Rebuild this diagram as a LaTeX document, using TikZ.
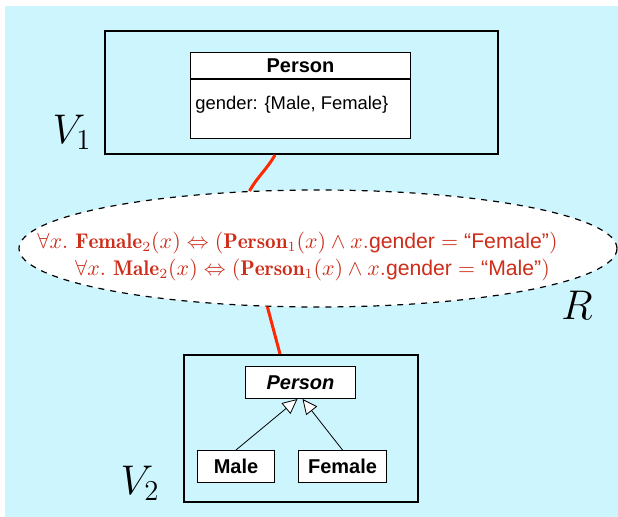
\documentclass[tikz,border=0pt]{standalone}
\usepackage{fontspec}
\setsansfont{Liberation Sans}
\usetikzlibrary{positioning,arrows.meta,shapes.geometric}
\definecolor{skyback}{RGB}{205,245,254}
\definecolor{mapline}{RGB}{255,40,0}
\definecolor{maptext}{RGB}{205,45,25}
\begin{document}
\begin{tikzpicture}[x=0.5pt,y=-0.5pt,
		viewbox/.style={draw,line width=1pt,anchor=north west,inner sep=0pt},
		classbox/.style={draw,fill=white,line width=0.5pt,anchor=north west,inner sep=0pt,font=\sffamily\bfseries\fontsize{10}{12}\selectfont},
		maplink/.style={draw=mapline,line width=1.5pt},
		viewlabel/.style={font=\fontsize{20}{24}\selectfont},
		maprule/.style={text=maptext,font=\fontsize{10.6}{12}\selectfont},
		isa/.style={-{Triangle[open,fill=white,length=7.5pt,width=7pt]},line width=0.4pt}]
		\fill[skyback] (5,6) rectangle (618,517);
		\useasboundingbox (0,0) rectangle (618,517);
		% view V1
		\node[viewbox,minimum width=196.5pt,minimum height=61.5pt] (vone) at (104,30) {};
		\node[classbox,minimum width=110pt,minimum height=13pt] (pone) at (190,52) {Person};
		\node[classbox,minimum width=110pt,minimum height=29.5pt,anchor=north] (ponebody) at (pone.south) {};
		\node[anchor=west,inner sep=0pt,font=\sffamily\fontsize{9.2}{11}\selectfont] (gender) at (195,105) {gender: \{Male, Female\}};
		\node[viewlabel] (vonelabel) at (72,132) {$V_1$};
		% mapping R
		\node[ellipse,draw,dashed,fill=white,line width=0.6pt,inner sep=0pt,minimum width=299pt,minimum height=58.5pt] (rel) at (318,248.5) {};
		\node[maprule] (fem) at (297.5,243) {$\forall x.\ \mathbf{Female}_2(x) \Leftrightarrow (\mathbf{Person}_1(x) \wedge x.\textsf{gender} = \textsf{``Female''})$};
		\node[maprule] (mal) at (312.5,270) {$\forall x.\ \mathbf{Male}_2(x) \Leftrightarrow (\mathbf{Person}_1(x) \wedge x.\textsf{gender} = \textsf{``Male''})$};
		\node[viewlabel] (rlabel) at (577,305) {$R$};
		% view V2
		\node[viewbox,minimum width=117pt,minimum height=73.5pt] (vtwo) at (183,354) {};
		\node[classbox,minimum width=55pt,minimum height=16pt,font=\sffamily\bfseries\itshape\fontsize{10}{12}\selectfont] (ptwo) at (245,366) {Person};
		\node[classbox,minimum width=38.5pt,minimum height=16pt] (male) at (197,450) {Male};
		\node[classbox,minimum width=44pt,minimum height=16pt] (female) at (298,450) {Female};
		\node[viewlabel] (vtwolabel) at (140,483) {$V_2$};
		% links
		\draw[isa] (male.north) -- ([xshift=-1.5pt]ptwo.south);
		\draw[isa] (female.north) -- ([xshift=1pt]ptwo.south);
		\draw[maplink] ([xshift=-13.25pt]vone.south) to[out=-120,in=60] (rel.140);
		\draw[maplink] (rel.229) -- ([xshift=-10.5pt]vtwo.north);
	\end{tikzpicture}
\end{document}
